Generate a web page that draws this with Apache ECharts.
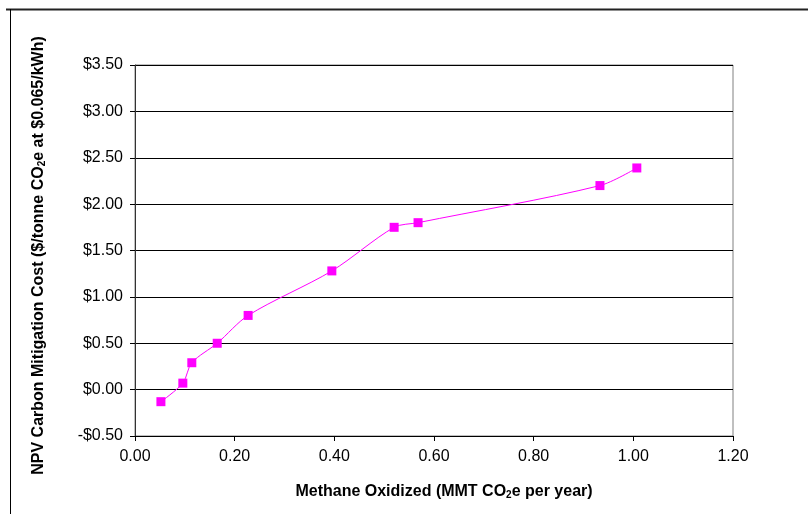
<!DOCTYPE html>
<html>
<head>
<meta charset="utf-8">
<script src="https://cdn.jsdelivr.net/npm/echarts@6/dist/echarts.min.js"></script>
<style>
  html, body { margin: 0; padding: 0; background: #fff; }
  #chart { width: 808px; height: 514px; }
</style>
</head>
<body>
<div id="chart"></div>
<script>
  // methane oxidized (MMT CO2e per year) and NPV cost ($/tonne CO2e)
  var methaneOxidized = [0.052, 0.096, 0.114, 0.165, 0.227, 0.395, 0.520, 0.568, 0.933, 1.007];
  var mitigationCost = [-0.13, 0.07, 0.29, 0.50, 0.80, 1.28, 1.75, 1.80, 2.20, 2.39];
  var xTicks = { min: 0, max: 1.2, interval: 0.2 };
  var yTicks = { min: -0.5, max: 3.5, interval: 0.5 };

  var points = methaneOxidized.map(function (x, i) { return [x, mitigationCost[i]]; });

  var chart = echarts.init(document.getElementById('chart'));
  var font = 'Liberation Sans, Arial, sans-serif';
  var subStyle = { fontFamily: font, fontSize: 10, fontWeight: 'bold', color: '#000', verticalAlign: 'bottom', padding: [7, 0, 0, 0] };

  var option = {
    animation: false,
    backgroundColor: '#fff',
    grid: {
      left: 135, right: 75, top: 65, bottom: 78,
      show: true, borderColor: '#808080', borderWidth: 1
    },
    graphic: [
      { type: 'line', shape: { x1: 6, y1: 9.5, x2: 808, y2: 9.5 }, style: { stroke: '#222', lineWidth: 2 } },
      { type: 'line', shape: { x1: 10.5, y1: 9, x2: 10.5, y2: 514 }, style: { stroke: '#000', lineWidth: 1 } }
    ],
    xAxis: {
      type: 'value',
      min: xTicks.min, max: xTicks.max, interval: xTicks.interval,
      name: 'Methane Oxidized (MMT CO{sub|2}e per year)',
      nameLocation: 'middle',
      nameGap: 47,
      nameTextStyle: {
        fontFamily: font, fontSize: 16, fontWeight: 'bold', color: '#000',
        padding: [0, 0, 0, 20],
        rich: { sub: subStyle }
      },
      axisLine: { show: true, onZero: false, lineStyle: { color: '#000', width: 1 } },
      axisTick: { show: true, length: 5, lineStyle: { color: '#000' } },
      axisLabel: {
        fontFamily: font, fontSize: 16, color: '#000', margin: 13,
        formatter: function (v) { return v.toFixed(2); }
      },
      splitLine: { show: false }
    },
    yAxis: {
      type: 'value',
      min: yTicks.min, max: yTicks.max, interval: yTicks.interval,
      name: 'NPV Carbon Mitigation Cost ($/tonne CO{sub|2}e at $0.065/kWh)',
      nameLocation: 'middle',
      nameGap: 88,
      nameTextStyle: {
        fontFamily: font, fontSize: 16, fontWeight: 'bold', color: '#000',
        padding: [0, 10, 0, 0],
        rich: { sub: subStyle }
      },
      axisLine: { show: true, onZero: false, lineStyle: { color: '#333', width: 1 } },
      axisTick: { show: true, length: 5, lineStyle: { color: '#000' } },
      axisLabel: {
        fontFamily: font, fontSize: 16, color: '#000', margin: 12,
        formatter: function (v) {
          return (v < 0 ? '-$' : '$') + Math.abs(v).toFixed(2);
        }
      },
      splitLine: { show: true, lineStyle: { color: '#000', width: 1 } }
    },
    series: [{
      type: 'line',
      data: points,
      smooth: 0.3,
      symbol: 'rect',
      symbolSize: 9,
      itemStyle: { color: '#FF00FF' },
      lineStyle: { color: '#FF00FF', width: 1 }
    }]
  };
  chart.setOption(option);
</script>
</body>
</html>
